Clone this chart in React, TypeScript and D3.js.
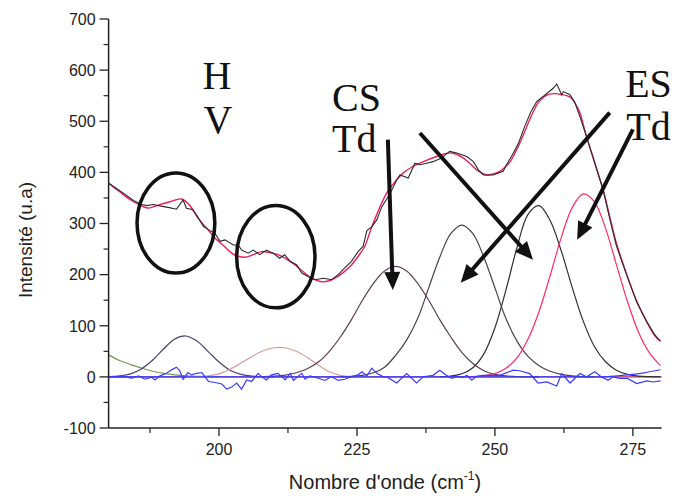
import React from 'react';
import * as d3 from 'd3';

// ---- Data ----
const dataX = [180,181.5,183,184.5,186,187,188,189.5,191,192.3,193.5,194.1,195.3,196.2,197.2,198.1,199.3,200.2,201.1,202.6,203.5,204.1,205.3,206.2,207.4,208.6,209.8,211,211.9,212.9,214.1,215,216.2,217.4,218.9,220.4,221.6,222.8,224,225.2,226.1,226.8,227.7,228.6,229.5,230.4,231.3,232.2,232.8,234.3,235.5,236.4,237.6,238.8,240.3,241.8,243.1,244.9,246.1,247,247.9,249.7,251.5,252.1,253.2,254.3,255.4,256.5,257.6,258.8,260.6,261.2,262.1,262.4,263.6,264.5,265.4,266.6,268.1,269.6,271,272,273.9,275.7,277.5,279,279.6,280];
const dataY = [379,368,357,345,337,335,337,334,331,328,346,330,327,312,294,288,280,265,268,258,258,248,242,248,239,248,242,232,239,226,219,203,196,190,193,190,200,213,226,245,255,286,294,307,333,348,365,385,395,389,418,415,418,421,428,441,438,431,421,405,395,395,402,415,435,458,490,518,539,549,565,573,552,558,552,536,509,470,418,366,300,257,198,146,108,82,74,70];

const fitX = [180,182,184,185.5,187.2,189,191,193.2,194.5,196.3,198,199.3,201,202.3,203.5,204.7,206,207.7,209.2,210.7,212.3,213.8,215.3,216.8,218.6,220,221,222.5,224,225.3,226.4,227.4,228.3,229.4,230.4,231.9,233.4,234.9,236.4,237.9,239.4,240.8,242.2,243.3,244.3,245.5,246.7,247.6,248.5,249.7,250.9,251.8,252.7,253.6,254.5,255.4,256.3,257.8,258.8,259.9,261,262.1,263,263.9,264.7,265.4,266.6,268.1,269.6,271,272,273.9,275.7,277.5,279,280];
const fitY = [379,362,346,337,330,336,342,348,338,309,288,271,255,242,236,234,238,245,243,239,230,219,205,193,186,188,193,204,219,237,255,285,310,338,360,382,399,410,418,425,431,436,438,434,428,417,405,399,395,397,402,410,420,437,457,480,503,536,547,553,554,552,550,545,532,516,470,418,366,305,262,200,148,108,80,70];

const residX = [180,183,184.2,185.4,186.6,187.8,188.4,189.3,190.5,191.4,192.3,192.9,193.5,194.4,195,196,196.9,197.5,198.1,199.3,200.5,201.4,202.3,203.2,204.1,205,205.9,207.1,207.7,208.6,209.5,210.7,211.4,212,212.9,213.5,214.4,215,215.6,216.5,218,219.2,220.4,221.6,222.8,224,225.2,225.9,226.8,227.7,228.6,229.8,230.4,232.2,234,235.8,237,238.8,240,241.2,242.2,243.1,244.3,244.9,245.8,246.7,247.9,250.9,253.3,254.5,256.3,257.8,259.4,261.2,262.1,263.6,265.4,266.6,268.1,269.3,270.5,271.4,272.6,274,275.7,277.5,278.7,280];
const residY = [0,0,-2.6,2,-4.6,-0.6,-5.9,2,7,13.7,19,12,-4.6,8.5,3.9,7,8.5,-0.6,-9,-11,-14,-24,-20,-12,-24,-6,-9,7,0.6,-6,4,7,0.6,-6,7,-7,2,7,-4.6,2,-2.6,-7,0.6,-7,-4.6,0.6,4,10,2,17,7,0,0,-12,6.5,-12,0,3,13,3,-3,1,-1,3,-6.5,1,3,3,13,12,6.5,-12,-10,-18,6.5,-12,6.5,0,10,0,-6.5,0,-3,-3,-13,-8,-10,-8];

const baseX = [180,268,271,274,277,280];
const baseY = [0,0,1,4,8,14];

const greenX = [180,182,184,186,188,190,192,194,196,198,200];
const greenY = [43,32,24,17,11,7,4,2,1,0.3,0];

const peak194X = [180,182,184,186,188,190,192,194,196,198,200,202,204,206,208,210];
const peak194Y = [0.5,2,6,16,33,55,74,80,70,50,29,13,5,1.5,0.3,0];

const peak211X = [194,196,198,200,202,204,206,208,210,212,214,216,218,220,222,224,226,228];
const peak211Y = [0,0.5,2,6,15,27,40,51,57,57,50,38,23,10,3,0.5,0,0];

const peak232X = [208,210,212,214,216,218,220,222,224,226,228,230,232,234,236,238,240,242,244,246,248,250,252,254,256,258];
const peak232Y = [0.3,1.5,3.6,8,16,29,50,78,112,150,183,207,216,207,183,150,112,78,48,26,12,5,2,0.7,0.2,0];

const peak244X = [222,224,226,228,230,232,234,236,238,240,242,244,246,248,250,252,254,256,258,260,262,264,266,268];
const peak244Y = [0.3,1,3,8,19,42,72,114,174,234,280,297,280,234,174,114,70,40,22,11,5,2,0.5,0];

const peak257X = [240,242,244,246,248,250,252,254,256,258,260,262,264,266,268,270,272,274,276,278,280];
const peak257Y = [0.3,1.7,6,18,45,96,170,253,318,335,306,247,175,109,60,30,13,5,1.5,0.4,0.1];

const peak266X = [244,246,248,250,252,254,256,258,260,262,264,266,268,270,272,274,276,278,280];
const peak266Y = [0.2,0.6,2.4,6.7,17,37,74,128,198,272,331,358,343,292,220,148,88,47,22];

const yTicks = [-100, 0, 100, 200, 300, 400, 500, 600, 700];
const yMinorTicks = [-50, 50, 150, 250, 350, 450, 550, 650];
const xTicks = [200, 225, 250, 275];
const xMinorTicks = [187.5, 212.5, 237.5, 262.5];

// annotations (data coordinates)
const ellipseCX = [192.2, 210.3];
const ellipseCY = [301, 235];
const ellipseRX = [7.05, 7.1];
const ellipseRY = [98, 100];

const arrowFromX = [230.6, 236.4, 270.8, 275.0];
const arrowFromY = [464, 477, 517, 484];
const arrowToX = [231.5, 256.9, 243.8, 264.9];
const arrowToY = [170, 229, 184, 268];

const labelText = ['H', 'V', 'CS', 'Td', 'ES', 'Td'];
const labelX = [197.0, 197.2, 220.5, 220.5, 273.6, 273.8];
const labelY = [563, 477, 520, 440, 548, 464];

export default function App() {
  const x = d3.scaleLinear().domain([180, 280.2]).range([108.6, 661.6]);
  const y = d3.scaleLinear().domain([-100, 700]).range([428, 19]);
  const [x0, x1] = x.range();
  const [yb, yt] = y.range();

  const path = (xs: number[], ys: number[], curve: any) =>
    d3.line<number>().x((_, i) => x(xs[i])).y((d) => y(d)).curve(curve)(ys) || '';

  const comps = [
    { xs: greenX, ys: greenY, c: '#6f9a4e' },
    { xs: peak194X, ys: peak194Y, c: '#4a4466' },
    { xs: peak211X, ys: peak211Y, c: '#d69a98' },
    { xs: peak232X, ys: peak232Y, c: '#5e3c52' },
    { xs: peak244X, ys: peak244Y, c: '#4e3e4c' },
    { xs: peak257X, ys: peak257Y, c: '#303030' },
    { xs: peak266X, ys: peak266Y, c: '#ff2a66' },
  ];

  const sans = "'Liberation Sans', Arial, sans-serif";
  const serif = "'Liberation Serif', 'Times New Roman', serif";

  const arrows = arrowFromX.map((_, i) => {
    const sx = x(arrowFromX[i]), sy = y(arrowFromY[i]);
    const tx = x(arrowToX[i]), ty = y(arrowToY[i]);
    const dx = tx - sx, dy = ty - sy;
    const len = Math.hypot(dx, dy);
    const ux = dx / len, uy = dy / len;
    const nx = -uy, ny = ux;
    const L = 18, W = 16;
    const bx = tx - ux * L, by = ty - uy * L;
    return {
      line: { x1: sx, y1: sy, x2: bx + ux * 3, y2: by + uy * 3 },
      head: `${tx},${ty} ${bx + nx * W / 2},${by + ny * W / 2} ${bx - nx * W / 2},${by - ny * W / 2}`,
    };
  });

  return (
    <svg width={675} height={496} style={{ position: 'absolute', left: 0, top: 0, background: '#fff' }}>
      <defs>
        <clipPath id="plot">
          <rect x={x0} y={yt - 5} width={x1 - x0 + 1} height={yb - yt + 5} />
        </clipPath>
      </defs>

      <g clipPath="url(#plot)">
        <line x1={x0} x2={x1} y1={y(0)} y2={y(0)} stroke="#b03058" strokeWidth={1.2} />
        {comps.map((c, i) => (
          <path key={i} d={path(c.xs, c.ys, d3.curveCatmullRom)} fill="none" stroke={c.c} strokeWidth={1.2} />
        ))}
        <path d={path(baseX, baseY, d3.curveMonotoneX)} fill="none" stroke="#3a3aff" strokeWidth={1.2} />
        <path d={path(residX, residY, d3.curveLinear)} fill="none" stroke="#3a3aff" strokeWidth={1.2} />
        <path d={path(fitX, fitY, d3.curveCatmullRom)} fill="none" stroke="#e8205a" strokeWidth={1.4} />
        <path d={path(dataX, dataY, d3.curveLinear)} fill="none" stroke="#2a2a2a" strokeWidth={1.1} />
      </g>

      {/* axes */}
      <line x1={x0} x2={x0} y1={yt} y2={yb} stroke="#222" strokeWidth={1.5} />
      <line x1={x0} x2={x1} y1={yb} y2={yb} stroke="#222" strokeWidth={1.5} />
      {yTicks.map((t) => (
        <g key={'y' + t}>
          <line x1={x0 - 9} x2={x0} y1={y(t)} y2={y(t)} stroke="#222" strokeWidth={1.3} />
          <text x={x0 - 13} y={y(t)} dy="0.36em" textAnchor="end" fontFamily={sans} fontSize={16} fill="#222">{t}</text>
        </g>
      ))}
      {yMinorTicks.map((t) => (
        <line key={'ym' + t} x1={x0 - 5} x2={x0} y1={y(t)} y2={y(t)} stroke="#222" strokeWidth={1.2} />
      ))}
      {xTicks.map((t) => (
        <g key={'x' + t}>
          <line x1={x(t)} x2={x(t)} y1={yb} y2={yb + 8} stroke="#222" strokeWidth={1.3} />
          <text x={x(t)} y={yb + 27} textAnchor="middle" fontFamily={sans} fontSize={16} fill="#222">{t}</text>
        </g>
      ))}
      {xMinorTicks.map((t) => (
        <line key={'xm' + t} x1={x(t)} x2={x(t)} y1={yb} y2={yb + 5} stroke="#222" strokeWidth={1.2} />
      ))}

      <text transform={`translate(32,240) rotate(-90)`} textAnchor="middle" fontFamily={sans} fontSize={19} fill="#222">Intensité (u.a)</text>
      <text x={385} y={489} textAnchor="middle" fontFamily={sans} fontSize={20} fill="#222">
        Nombre d'onde (cm<tspan dy={-9} fontSize={12}>-1</tspan><tspan dy={9}>)</tspan>
      </text>

      {/* annotations */}
      {ellipseCX.map((cx, i) => (
        <ellipse key={'e' + i} cx={x(cx)} cy={y(ellipseCY[i])}
          rx={x(cx + ellipseRX[i]) - x(cx)} ry={y(0) - y(ellipseRY[i])}
          fill="none" stroke="#111" strokeWidth={3.5} />
      ))}
      {arrows.map((a, i) => (
        <g key={'a' + i}>
          <line {...a.line} stroke="#111" strokeWidth={4} />
          <polygon points={a.head} fill="#111" />
        </g>
      ))}
      {labelText.map((t, i) => (
        <text key={'l' + i} x={x(labelX[i])} y={y(labelY[i])} fontFamily={serif} fontSize={40} fill="#111">{t}</text>
      ))}
    </svg>
  );
}
